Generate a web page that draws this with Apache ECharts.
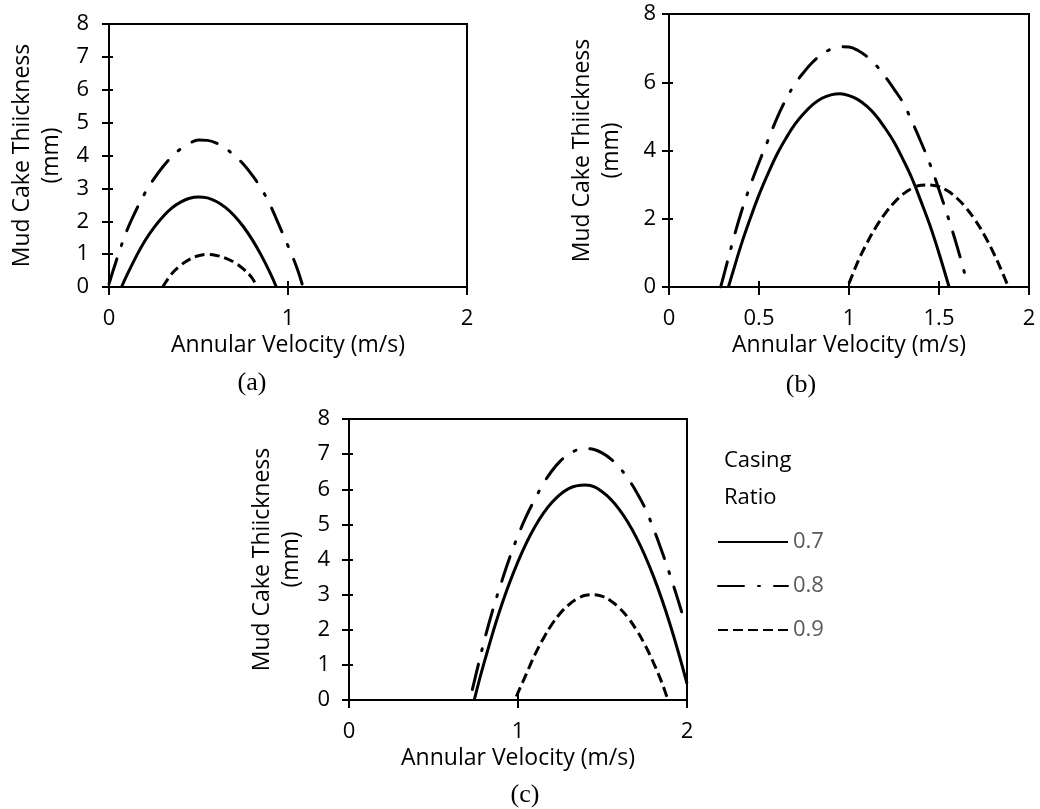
<!DOCTYPE html>
<html>
<head>
<meta charset="utf-8">
<script src="https://cdn.jsdelivr.net/npm/echarts@6/dist/echarts.min.js"></script>
<style>html,body{margin:0;padding:0;background:#fff}#c{width:1040px;height:809px}</style>
</head>
<body>
<div id="c"></div>
<script>
// ---- data (x = annular velocity m/s, y = mud cake thickness mm) ----
const seriesNames = ['0.7', '0.8', '0.9'];
const panelLabels = ['(a)', '(b)', '(c)'];
const xTitle = 'Annular Velocity (m/s)';
const yTitle = 'Mud Cake Thiickness\n(mm)';
const legendTitle = 'Casing\nRatio';

const a07 = [[0.07,0],[0.1,0.36],[0.15,0.91],[0.2,1.40],[0.25,1.80],[0.3,2.13],[0.35,2.40],[0.4,2.58],[0.45,2.70],[0.5,2.74],[0.55,2.71],[0.6,2.60],[0.65,2.42],[0.7,2.17],[0.75,1.84],[0.8,1.44],[0.85,0.97],[0.9,0.43],[0.935,0]];
const a08 = [[0,0.1],[0.05,0.95],[0.1,1.72],[0.15,2.32],[0.2,2.85],[0.25,3.28],[0.3,3.65],[0.35,3.96],[0.4,4.2],[0.45,4.37],[0.5,4.47],[0.55,4.46],[0.6,4.38],[0.65,4.22],[0.7,4.0],[0.75,3.74],[0.8,3.4],[0.85,3.0],[0.9,2.5],[0.95,1.88],[1.0,1.25],[1.05,0.58],[1.08,0.07]];
const a09 = [[0.3,0],[0.35,0.4],[0.4,0.66],[0.45,0.84],[0.5,0.95],[0.55,0.99],[0.6,0.96],[0.65,0.88],[0.7,0.75],[0.75,0.55],[0.8,0.27],[0.825,0]];

const b07 = [[0.33,0],[0.35,0.35],[0.4,1.22],[0.45,1.99],[0.5,2.70],[0.55,3.32],[0.6,3.89],[0.65,4.36],[0.7,4.77],[0.75,5.09],[0.8,5.35],[0.85,5.53],[0.9,5.63],[0.95,5.66],[1.0,5.61],[1.05,5.49],[1.1,5.29],[1.15,5.02],[1.2,4.66],[1.25,4.25],[1.3,3.74],[1.35,3.18],[1.4,2.51],[1.45,1.80],[1.5,0.99],[1.556,0]];
const b08 = [[0.287,0],[0.3,0.25],[0.35,1.25],[0.4,2.17],[0.45,2.95],[0.5,3.65],[0.55,4.3],[0.6,4.95],[0.65,5.5],[0.7,5.95],[0.75,6.3],[0.8,6.6],[0.85,6.82],[0.9,6.97],[0.95,7.04],[1.0,7.03],[1.05,6.93],[1.1,6.75],[1.15,6.5],[1.2,6.17],[1.25,5.8],[1.3,5.4],[1.35,4.85],[1.4,4.25],[1.45,3.6],[1.5,2.85],[1.55,2.05],[1.6,1.2],[1.65,0.25]];
const b09 = [[1.0,0.1],[1.05,0.75],[1.1,1.29],[1.15,1.76],[1.2,2.15],[1.25,2.47],[1.3,2.72],[1.35,2.89],[1.4,2.98],[1.45,2.99],[1.5,2.94],[1.55,2.81],[1.6,2.60],[1.65,2.32],[1.7,1.97],[1.75,1.54],[1.8,1.03],[1.85,0.45],[1.885,0]];

const c07 = [[0.741,0],[0.8,1.07],[0.9,2.66],[1.0,3.94],[1.1,4.93],[1.2,5.62],[1.3,6.02],[1.4,6.12],[1.5,5.92],[1.6,5.42],[1.7,4.63],[1.8,3.54],[1.9,2.15],[2.0,0.47]];
const c08 = [[0.73,0.3],[0.75,0.7],[0.8,1.68],[0.85,2.55],[0.9,3.32],[0.95,4.04],[1.0,4.68],[1.05,5.24],[1.1,5.72],[1.15,6.16],[1.2,6.52],[1.25,6.8],[1.3,7.0],[1.35,7.12],[1.4,7.16],[1.45,7.13],[1.5,7.03],[1.55,6.86],[1.6,6.62],[1.65,6.31],[1.7,5.93],[1.75,5.48],[1.8,4.9],[1.85,4.25],[1.9,3.55],[1.95,2.8],[1.99,2.15]];
const c09 = [[0.99,0.1],[1.05,0.75],[1.1,1.29],[1.15,1.75],[1.2,2.15],[1.25,2.47],[1.3,2.71],[1.35,2.88],[1.4,2.98],[1.45,3.0],[1.5,2.95],[1.55,2.82],[1.6,2.62],[1.65,2.35],[1.7,2.0],[1.75,1.58],[1.8,1.08],[1.85,0.51],[1.887,0]];

const xIntervals = [1, 0.5, 1];
const yIntervals = [1, 2, 1];
const panelData = [[a07, a08, a09], [b07, b08, b09], [c07, c08, c09]];

// ---- layout / style ----
const FONT = '"Open Sans", "Noto Sans", sans-serif';
const FS = 22;
const NFS = 23;
const grids = [
  {left: 109, top: 24, width: 358, height: 263},
  {left: 669, top: 14, width: 360, height: 273},
  {left: 349, top: 419, width: 338, height: 281}
];
const yLabelMargin = [20, 13, 19];
const lineStyles = [
  {color: '#000', width: 3, type: 'solid'},
  {color: '#000', width: 3, type: [26, 14, 2, 14], cap: 'round'},
  {color: '#000', width: 3, type: [10, 5]}
];

const xAxes = [], yAxes = [], series = [];
grids.forEach((g, i) => {
  g.show = true; g.borderColor = '#000'; g.borderWidth = 2; g.backgroundColor = 'transparent';
  const base = {type: 'value', gridIndex: i, min: 0, max: 2, interval: xIntervals[i], splitLine: {show: false}};
  xAxes.push(Object.assign({}, base, {
    position: 'bottom',
    axisLine: {show: true, onZero: false, lineStyle: {color: '#000', width: 2}},
    axisTick: {show: true, inside: false, length: 8, lineStyle: {color: '#000', width: 2}},
    axisLabel: {color: '#000', fontSize: FS, fontFamily: FONT, margin: 21, formatter: v => String(v)},
    name: xTitle, nameLocation: 'middle', nameGap: 47,
    nameTextStyle: {color: '#000', fontSize: NFS, fontFamily: FONT}
  }));
  xAxes.push(Object.assign({}, base, {
    position: 'bottom', axisLine: {show: false},
    axisTick: {show: true, inside: true, length: 6, lineStyle: {color: '#000', width: 2}},
    axisLabel: {show: false}
  }));
  const ybase = {type: 'value', gridIndex: i, min: 0, max: 8, interval: yIntervals[i], splitLine: {show: false}};
  yAxes.push(Object.assign({}, ybase, {
    position: 'left',
    axisLine: {show: true, onZero: false, lineStyle: {color: '#000', width: 2}},
    axisTick: {show: true, inside: false, length: 7, lineStyle: {color: '#000', width: 2}},
    axisLabel: {color: '#000', fontSize: FS, fontFamily: FONT, margin: yLabelMargin[i]},
    name: yTitle, nameLocation: 'middle', nameGap: 43, nameRotate: 90,
    nameTextStyle: {color: '#000', fontSize: NFS, fontFamily: FONT, lineHeight: 29, align: 'center'}
  }));
  yAxes.push(Object.assign({}, ybase, {
    position: 'left', axisLine: {show: false},
    axisTick: {show: true, inside: true, length: 4, lineStyle: {color: '#000', width: 2}},
    axisLabel: {show: false}
  }));
  panelData[i].forEach((d, k) => {
    series.push({
      type: 'line', name: seriesNames[k], xAxisIndex: i * 2, yAxisIndex: i * 2,
      data: d, smooth: 0.4, symbol: 'none', showSymbol: false, clip: true,
      lineStyle: lineStyles[k], itemStyle: {color: '#000'}, animation: false
    });
  });
});

const captionPos = [[252, 383], [801, 385], [525, 795]];
const graphics = panelLabels.map((t, i) => ({
  type: 'text', x: captionPos[i][0], y: captionPos[i][1],
  style: {text: t, fontSize: 26, fontFamily: '"Liberation Serif", "Times New Roman", serif', fill: '#000', align: 'center', verticalAlign: 'middle'}
}));
graphics.push({
  type: 'text', x: 724, y: 442,
  style: {text: legendTitle, fontSize: FS, lineHeight: 37, fontFamily: FONT, fill: '#000', align: 'left', verticalAlign: 'top'}
});

const chart = echarts.init(document.getElementById('c'), null, {renderer: 'canvas'});
chart.setOption({
  animation: false,
  backgroundColor: '#fff',
  grid: grids,
  xAxis: xAxes,
  yAxis: yAxes,
  legend: {
    data: seriesNames, orient: 'vertical', left: 717, top: 531, padding: 0,
    itemWidth: 70, itemHeight: 14, itemGap: 22, selectedMode: false,
    itemStyle: {color: 'transparent', borderWidth: 0, opacity: 0},
    textStyle: {color: '#595959', fontSize: FS, fontFamily: FONT, lineHeight: 22}
  },
  graphic: graphics,
  series: series
});
</script>
</body>
</html>
